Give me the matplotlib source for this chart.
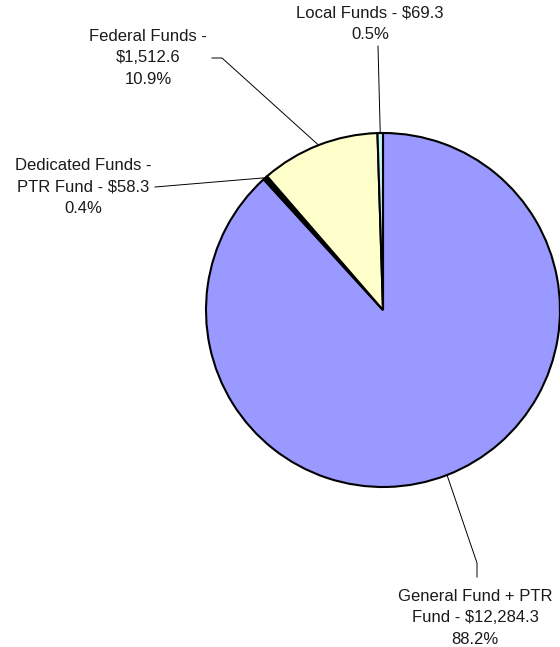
import numpy as np
import matplotlib.pyplot as plt

plt.rcParams['font.family'] = ['Liberation Sans', 'DejaVu Sans']

# fund sources, in slice order (clockwise from 12 o'clock)
names = ['General Fund + PTR\nFund - $12,284.3', 'Dedicated Funds -\nPTR Fund - $58.3',
         'Federal Funds -\n$1,512.6', 'Local Funds - $69.3']
amounts = [12284.3, 58.3, 1512.6, 69.3]
shares = ['88.2%', '0.4%', '10.9%', '0.5%']
colors = ['#9999FF', '#000000', '#FFFFCC', '#BFF4FA']

W, H = 560, 647
fig = plt.figure(figsize=(W / 100, H / 100), dpi=100)
ax = fig.add_axes([0, 0, 1, 1])

cx, cy, r = 383, H - 310, 177
wedges, _ = ax.pie(amounts, colors=colors, startangle=90, counterclock=False,
                   center=(cx, cy), radius=r,
                   wedgeprops=dict(edgecolor='black', linewidth=1.5))
ax.set_xlim(0, W)
ax.set_ylim(0, H)
ax.set_aspect('equal')
ax.axis('off')

# label block centre and leader-line path (outer end first) for each slice
label_pos = [(475, H - 618), (83, H - 187), (148, H - 58), (370, H - 24)]
leader_pts = [
    [(477, H - 577), (477, H - 563)],
    [(155, H - 187)],
    [(212, H - 58), (222, H - 58)],
    [(378, H - 46)],
]

for w, name, pct, (tx, ty), pts in zip(wedges, names, shares, label_pos, leader_pts):
    mid = np.deg2rad((w.theta1 + w.theta2) / 2)
    ex, ey = cx + r * np.cos(mid), cy + r * np.sin(mid)
    xs = [p[0] for p in pts] + [ex]
    ys = [p[1] for p in pts] + [ey]
    ax.plot(xs, ys, color='black', linewidth=0.7, zorder=0.5)
    ax.text(tx, ty, name + '\n' + pct, ha='center', va='center',
            fontsize=12, linespacing=1.55, color='#1a1a1a')

fig.savefig('out.png', dpi=100)
